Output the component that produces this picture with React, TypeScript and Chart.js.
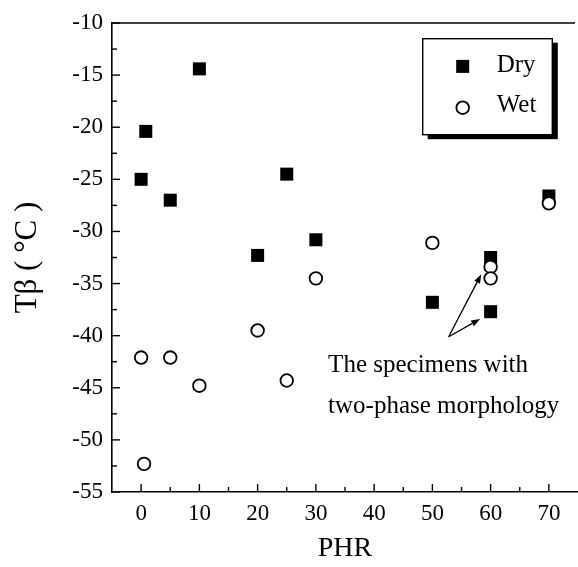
import { useEffect, useRef } from "react";
import { Chart, registerables } from "chart.js";

Chart.register(...registerables);

// ---- data ----
const SERIES_LABELS = ["Dry", "Wet"];
const DRY_PHR = [0, 0.8, 5, 10, 20, 25, 30, 50, 60, 60, 70];
const DRY_T = [-25.0, -20.4, -27.0, -14.4, -32.3, -24.5, -30.8, -36.8, -32.5, -37.7, -26.6];
const WET_PHR = [0, 0.5, 5, 10, 20, 25, 30, 50, 60, 60, 70];
const WET_T = [-42.1, -52.3, -42.1, -44.8, -39.5, -44.3, -34.5, -31.1, -33.4, -34.5, -27.3];
const X_TICKS = [0, 10, 20, 30, 40, 50, 60, 70];
const X_MIN = -5;
const X_MAX = 75;
const Y_MIN = -55;
const Y_MAX = -10;
const Y_STEP = 5;
const X_TITLE = "PHR";
const Y_TITLE = "Tβ ( °C )";
const NOTE_LINES = ["The specimens with", "two-phase morphology"];
const NOTE_X = 32.1;
const NOTE_Y = [-42.9, -46.8];
const ARROW_TAIL = [52.8, -40.1];
const ARROW_HEADS = [
  [58.4, -34.1],
  [58.2, -38.4],
];

const FONT = "'Liberation Serif', 'Times New Roman', serif";

const framePlugin = {
  id: "frameTicks",
  afterDraw(chart: any) {
    const { ctx, chartArea, scales } = chart;
    const xs = scales.x;
    const ys = scales.y;
    ctx.save();
    ctx.strokeStyle = "#000";
    ctx.lineWidth = 1.6;
    // top frame line
    ctx.beginPath();
    ctx.moveTo(chartArea.left, chartArea.top);
    ctx.lineTo(chartArea.right - 3, chartArea.top);
    ctx.stroke();
    ctx.lineWidth = 1.4;
    // y ticks (inward) major + minor
    const yt = ys.ticks.map((t: any) => t.value);
    for (let i = 0; i < yt.length; i++) {
      const p = ys.getPixelForValue(yt[i]);
      ctx.beginPath();
      ctx.moveTo(chartArea.left, p);
      ctx.lineTo(chartArea.left + 8, p);
      ctx.stroke();
      if (i < yt.length - 1) {
        const m = ys.getPixelForValue((yt[i] + yt[i + 1]) / 2);
        ctx.beginPath();
        ctx.moveTo(chartArea.left, m);
        ctx.lineTo(chartArea.left + 5, m);
        ctx.stroke();
      }
    }
    const xt = xs.ticks.map((t: any) => t.value);
    for (let i = 0; i < xt.length; i++) {
      const p = xs.getPixelForValue(xt[i]);
      ctx.beginPath();
      ctx.moveTo(p, chartArea.bottom);
      ctx.lineTo(p, chartArea.bottom - 8);
      ctx.stroke();
      if (i < xt.length - 1) {
        const m = xs.getPixelForValue((xt[i] + xt[i + 1]) / 2);
        ctx.beginPath();
        ctx.moveTo(m, chartArea.bottom);
        ctx.lineTo(m, chartArea.bottom - 5);
        ctx.stroke();
      }
    }

    // annotation text
    ctx.fillStyle = "#000";
    ctx.font = `25px ${FONT}`;
    ctx.textAlign = "left";
    ctx.textBaseline = "middle";
    NOTE_LINES.forEach((line, i) => {
      ctx.fillText(line, xs.getPixelForValue(NOTE_X), ys.getPixelForValue(NOTE_Y[i]));
    });

    // arrows
    const tx = xs.getPixelForValue(ARROW_TAIL[0]);
    const ty = ys.getPixelForValue(ARROW_TAIL[1]);
    ctx.lineWidth = 1.3;
    ARROW_HEADS.forEach(([hxv, hyv]) => {
      const hx = xs.getPixelForValue(hxv);
      const hy = ys.getPixelForValue(hyv);
      const ang = Math.atan2(hy - ty, hx - tx);
      const L = 9;
      const W = 3.2;
      const bx = hx - L * Math.cos(ang);
      const by = hy - L * Math.sin(ang);
      ctx.beginPath();
      ctx.moveTo(tx, ty);
      ctx.lineTo(bx, by);
      ctx.stroke();
      ctx.beginPath();
      ctx.moveTo(hx, hy);
      ctx.lineTo(bx + W * Math.sin(ang), by - W * Math.cos(ang));
      ctx.lineTo(bx - W * Math.sin(ang), by + W * Math.cos(ang));
      ctx.closePath();
      ctx.fill();
    });

    // legend box with drop shadow
    const bl = chartArea.right - 155.3;
    const bt = chartArea.top + 15.7;
    const bw = 129.6;
    const bh = 96;
    ctx.fillStyle = "#000";
    ctx.fillRect(bl + 5, bt + 4, bw + 0.5, bh + 0.5);
    ctx.fillStyle = "#fff";
    ctx.fillRect(bl, bt, bw, bh);
    ctx.lineWidth = 1.4;
    ctx.strokeStyle = "#000";
    ctx.strokeRect(bl, bt, bw, bh);

    const mx = bl + 40;
    const rows = [bt + 27.7, bt + 69];
    // Dry marker
    ctx.fillStyle = "#000";
    ctx.fillRect(mx - 6.5, rows[0] - 6.5, 13, 13);
    // Wet marker
    ctx.beginPath();
    ctx.arc(mx, rows[1], 6.3, 0, Math.PI * 2);
    ctx.fillStyle = "#fff";
    ctx.fill();
    ctx.lineWidth = 1.8;
    ctx.stroke();
    ctx.fillStyle = "#000";
    ctx.font = `25px ${FONT}`;
    ctx.textBaseline = "middle";
    ctx.fillText(SERIES_LABELS[0], bl + 74, rows[0] - 1);
    ctx.fillText(SERIES_LABELS[1], bl + 74, rows[1] - 2);
    ctx.restore();
  },
};

export default function App() {
  const ref = useRef<HTMLCanvasElement>(null);
  useEffect(() => {
    if (!ref.current) return;
    Chart.defaults.font.family = FONT;
    Chart.defaults.color = "#000";
    const chart = new Chart(ref.current, {
      type: "scatter",
      data: {
        datasets: [
          {
            label: SERIES_LABELS[0],
            data: DRY_PHR.map((x, i) => ({ x, y: DRY_T[i] })),
            pointStyle: "rect",
            pointRadius: 9.2,
            backgroundColor: "#000",
            borderColor: "#000",
            borderWidth: 0,
            order: 2,
          },
          {
            label: SERIES_LABELS[1],
            data: WET_PHR.map((x, i) => ({ x, y: WET_T[i] })),
            pointStyle: "circle",
            pointRadius: 6.3,
            backgroundColor: "#fff",
            borderColor: "#000",
            borderWidth: 1.8,
            order: 1,
          },
        ],
      },
      options: {
        responsive: false,
        animation: false,
        devicePixelRatio: 1,
        layout: { autoPadding: false, padding: { top: 23, left: 0, right: 0, bottom: 0 } },
        plugins: { legend: { display: false }, tooltip: { enabled: false } },
        scales: {
          x: {
            type: "linear",
            min: X_MIN,
            max: X_MAX,
            afterBuildTicks: (s: any) => {
              s.ticks = X_TICKS.map((v) => ({ value: v }));
            },
            afterFit: (s: any) => {
              s.height = 75;
            },
            grid: { display: false, drawTicks: false },
            border: { display: true, color: "#000", width: 1.6 },
            ticks: { font: { size: 23 }, padding: 8, color: "#000", maxRotation: 0 },
            title: {
              display: true,
              text: X_TITLE,
              font: { size: 28 },
              color: "#000",
              padding: { top: 0, bottom: 2 },
            },
          },
          y: {
            type: "linear",
            min: Y_MIN,
            max: Y_MAX,
            afterFit: (s: any) => {
              s.width = 112;
            },
            grid: { display: false, drawTicks: false },
            border: { display: true, color: "#000", width: 1.6 },
            ticks: { stepSize: Y_STEP, font: { size: 23 }, padding: 9, color: "#000" },
            title: {
              display: true,
              text: Y_TITLE,
              font: { size: 31 },
              color: "#000",
              padding: { top: 9, bottom: 0 },
            },
          },
        },
      },
      plugins: [framePlugin],
    });
    return () => chart.destroy();
  }, []);
  return (
    <div style={{ position: "absolute", left: 0, top: 0, width: 578, height: 567, background: "#fff" }}>
      <canvas ref={ref} width={578} height={567} />
    </div>
  );
}
